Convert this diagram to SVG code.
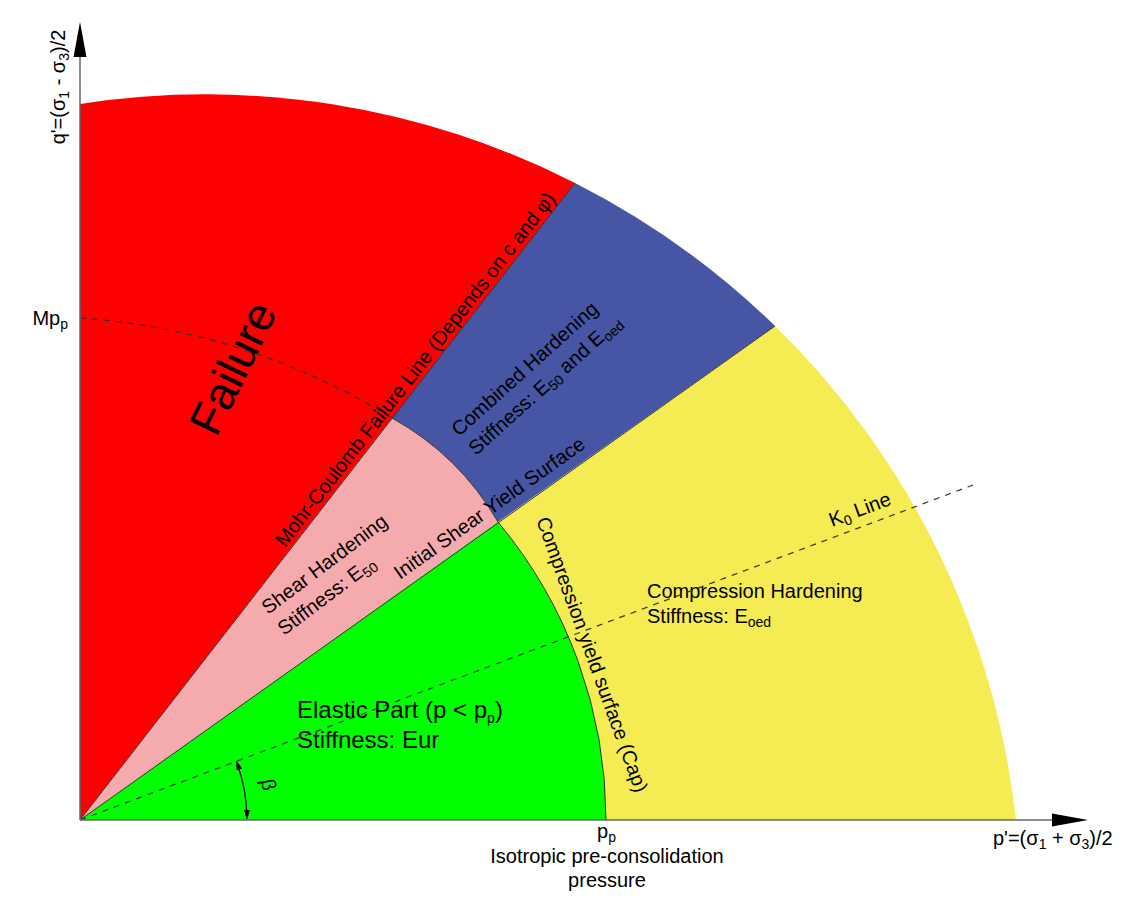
<svg xmlns="http://www.w3.org/2000/svg" width="1122" height="909" viewBox="0 0 1122 909">
<style>
text{font-family:"Liberation Sans",Arial,sans-serif;fill:#000;font-size:20px}
.big{font-size:24px}
.huge{font-size:46px}
.sub{font-size:14px}
.edge{fill:none;stroke:#333;stroke-width:1}
.dash{fill:none;stroke:#333;stroke-width:1.2;stroke-dasharray:6 6}
.axis{fill:none;stroke:#666;stroke-width:1.5}
.head{fill:#000}
</style>
<defs>
<marker id="ah" viewBox="0 0 10 6" refX="9" refY="3" markerWidth="10" markerHeight="6" markerUnits="userSpaceOnUse" orient="auto-start-reverse"><path d="M0,0 L10,3 L0,6 z" fill="#000"/></marker>
</defs>
<rect width="1122" height="909" fill="#fff"/>

<g id="failure">
<path fill="#FF0000" d="M80,820 L80,104 A815.3,815.3 0 0 1 575,183 Z"/>
<text class="huge" text-anchor="middle" transform="translate(247,375) rotate(-64)">Failure</text>
</g>
<g id="combined-hardening">
<path fill="#4655A4" d="M392,418 L575,183 A815.3,815.3 0 0 1 775,326 L498,522 A280,280 0 0 0 392,418 Z"/>
<text transform="translate(459,437) rotate(-42)">Combined Hardening</text>
<text transform="translate(476,456) rotate(-42)">Stiffness: E<tspan class="sub" dy="4">50</tspan><tspan dy="-4"> and E</tspan><tspan class="sub" dy="4">oed</tspan></text>
</g>
<g id="shear-hardening">
<path fill="#F5AAAE" d="M80,820 L392,418 A280,280 0 0 1 498,522 Z"/>
<text transform="translate(268,615) rotate(-37)">Shear Hardening</text>
<text transform="translate(284,636) rotate(-37)">Stiffness: E<tspan class="sub" dy="4">50</tspan></text>
</g>
<g id="elastic">
<path fill="#00FF00" d="M80,820 L498,522 A465,465 0 0 1 606,820 Z"/>
<text class="big" x="297" y="718">Elastic Part (p &lt; p<tspan class="sub" font-size="17" dy="5">p</tspan><tspan dy="-5">)</tspan></text>
<text class="big" x="297" y="748">Stiffness: Eur</text>
</g>
<g id="compression-hardening">
<path fill="#F4EC52" d="M498,522 L775,326 A815.3,815.3 0 0 1 1016,820 L606,820 A465,465 0 0 0 498,522 Z"/>
<text x="647" y="598">Compression Hardening</text>
<text x="647" y="623">Stiffness: E<tspan class="sub" dy="4">oed</tspan></text>
</g>

<g id="connectors">
<line class="edge" x1="80" y1="820" x2="575" y2="183"/>
<line class="edge" x1="80" y1="820" x2="775" y2="326"/>
<path class="edge" d="M498,522 A465,465 0 0 1 606,820"/>
<path class="edge" d="M392,418 A280,280 0 0 1 498,522"/>
<path class="dash" d="M80,318 A683,683 0 0 1 392,418"/>
<line class="dash" x1="80" y1="820" x2="973" y2="485"/>
<path fill="none" stroke="#000" stroke-width="1.2" d="M236.3,761.2 A167,167 0 0 1 247,819" marker-start="url(#ah)" marker-end="url(#ah)"/>
<line class="axis" x1="80" y1="820" x2="80" y2="50"/>
<line class="axis" x1="80" y1="820" x2="1060" y2="820"/>
<polygon class="head" points="80,22 73.5,57 86.5,57"/>
<polygon class="head" points="1088,820 1052,813.5 1052,826.5"/>
</g>

<g id="labels">
<text transform="translate(285,548) rotate(-52.15)">Mohr-Coulomb Failure Line (Depends on c and φ)</text>
<text transform="translate(400,580) rotate(-35.48)" font-size="20.5">Initial Shear Yield Surface</text>
<text transform="translate(536,520) rotate(70)">Compression yield surface (Cap)</text>
<text transform="translate(832,527) rotate(-20.6)">K<tspan class="sub" dy="4">0</tspan><tspan dy="-4"> Line</tspan></text>
<text text-anchor="middle" transform="translate(262,786) rotate(80)">β</text>
<text text-anchor="middle" transform="translate(65,87) rotate(-90)">q'=(σ<tspan class="sub" dy="4">1</tspan><tspan dy="-4"> - σ</tspan><tspan class="sub" dy="4">3</tspan><tspan dy="-4">)/2</tspan></text>
<text x="993" y="845">p'=(σ<tspan class="sub" dy="4">1</tspan><tspan dy="-4"> + σ</tspan><tspan class="sub" dy="4">3</tspan><tspan dy="-4">)/2</tspan></text>
<text text-anchor="end" x="68" y="325">Mp<tspan class="sub" dy="4">p</tspan></text>
<text x="597" y="838">p<tspan class="sub" dy="4">p</tspan></text>
<text text-anchor="middle" x="607" y="863">Isotropic pre-consolidation</text>
<text text-anchor="middle" x="607" y="887">pressure</text>
</g>
</svg>
